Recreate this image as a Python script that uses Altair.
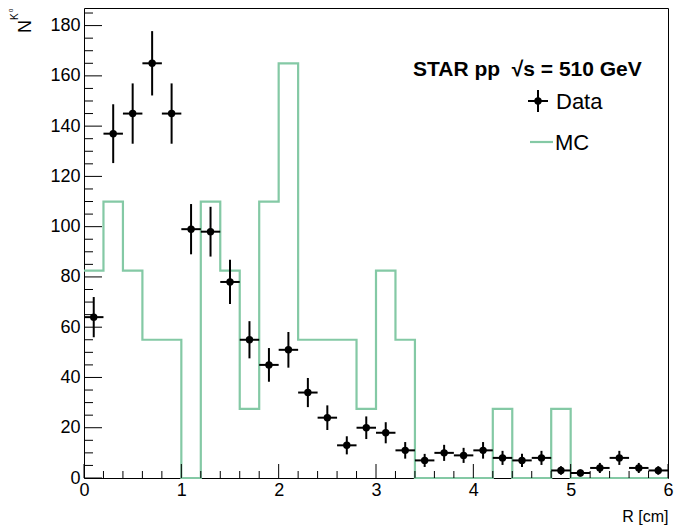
import altair as alt
import pandas as pd

# ---------------- data ----------------
bin_centers = [0.1, 0.3, 0.5, 0.7, 0.9, 1.1, 1.3, 1.5, 1.7, 1.9,
               2.1, 2.3, 2.5, 2.7, 2.9, 3.1, 3.3, 3.5, 3.7, 3.9,
               4.1, 4.3, 4.5, 4.7, 4.9, 5.1, 5.3, 5.5, 5.7, 5.9]
data_counts = [64, 137, 145, 165, 145, 99, 98, 78, 55, 45,
               51, 34, 24, 13, 20, 18, 11, 7, 10, 9,
               11, 8, 7, 8, 3, 2, 4, 8, 4, 3]
data_errors = [8.0, 11.7, 12.0, 12.8, 12.0, 10.0, 9.9, 8.8, 7.4, 6.7,
               7.1, 5.8, 4.9, 3.6, 4.5, 4.2, 3.3, 2.6, 3.2, 3.0,
               3.3, 2.8, 2.6, 2.8, 1.7, 1.4, 2.0, 2.8, 2.0, 1.7]
bin_half_width = 0.1

mc_edges = [0.0, 0.2, 0.4, 0.6, 0.8, 1.0, 1.2, 1.4, 1.6, 1.8,
            2.0, 2.2, 2.4, 2.6, 2.8, 3.0, 3.2, 3.4, 3.6, 3.8,
            4.0, 4.2, 4.4, 4.6, 4.8, 5.0, 5.2, 5.4, 5.6, 5.8, 6.0]
mc_values = [82.5, 110, 82.5, 55, 55, 0, 110, 82.5, 27.5, 110,
             165, 55, 55, 55, 27.5, 82.5, 55, 0, 0, 0,
             0, 27.5, 0, 0, 27.5, 0, 0, 0, 0, 0]

x_major_ticks = [0, 1, 2, 3, 4, 5, 6]
x_minor_ticks = [round(0.2 * i, 1) for i in range(31) if i % 5 != 0]
y_major_ticks = [0, 20, 40, 60, 80, 100, 120, 140, 160, 180]
y_minor_ticks = [5 * i for i in range(38) if i % 4 != 0]

X_DOMAIN = [0, 6]
Y_DOMAIN = [0, 187]
W, H = 584, 470
FONT = "Liberation Sans"
GREEN = "#84c9a5"

# ---------------- tables ----------------
df_data = pd.DataFrame({"R": bin_centers, "N": data_counts, "err": data_errors})
df_data["xlo"] = df_data["R"] - bin_half_width
df_data["xhi"] = df_data["R"] + bin_half_width
df_data["ylo"] = df_data["N"] - df_data["err"]
df_data["yhi"] = df_data["N"] + df_data["err"]

df_mc = pd.DataFrame({"edge": mc_edges, "v": mc_values + [mc_values[-1]]})

xs = alt.Scale(domain=X_DOMAIN, nice=False, zero=False)
ys = alt.Scale(domain=Y_DOMAIN, nice=False, zero=False)

x_axis = alt.Axis(values=x_major_ticks, format="d", ticks=False, domain=False, grid=False,
                  labelFont=FONT, labelFontSize=18, labelColor="black",
                  labelPadding=3, labelFlush=False,
                  title="R [cm]", titleFont=FONT, titleFontSize=16,
                  titleFontWeight="normal", titleColor="black",
                  titleAnchor="end", titleAlign="right", titleBaseline="alphabetic",
                  titleX=W, titleY=43)
y_axis = alt.Axis(values=y_major_ticks, format="d", ticks=False, domain=False, grid=False,
                  labelFont=FONT, labelFontSize=18, labelColor="black",
                  labelPadding=4, labelFlush=False, title=None)

mc = alt.Chart(df_mc).mark_line(interpolate="step-after", color=GREEN,
                                strokeWidth=2.2).encode(
    x=alt.X("edge:Q", scale=xs, axis=x_axis),
    y=alt.Y("v:Q", scale=ys, axis=y_axis),
)

hbar = alt.Chart(df_data).mark_rule(color="black", strokeWidth=2).encode(
    x=alt.X("xlo:Q", scale=xs), x2="xhi:Q", y=alt.Y("N:Q", scale=ys))
vbar = alt.Chart(df_data).mark_rule(color="black", strokeWidth=2).encode(
    x=alt.X("R:Q", scale=xs), y=alt.Y("ylo:Q", scale=ys), y2="yhi:Q")
pts = alt.Chart(df_data).mark_circle(color="black", size=55, opacity=1).encode(
    x=alt.X("R:Q", scale=xs), y=alt.Y("N:Q", scale=ys))

# inward ticks (ROOT style)
def xticks(vals, length):
    return alt.Chart(pd.DataFrame({"t": vals})).mark_rule(
        color="black", strokeWidth=1).encode(
        x=alt.X("t:Q", scale=xs), y=alt.value(H), y2=alt.value(H - length))

def yticks(vals, length):
    return alt.Chart(pd.DataFrame({"t": vals})).mark_rule(
        color="black", strokeWidth=1).encode(
        y=alt.Y("t:Q", scale=ys), x=alt.value(0), x2=alt.value(length))

ticks = [xticks(x_major_ticks, 14), xticks(x_minor_ticks, 7),
         yticks(y_major_ticks, 18), yticks(y_minor_ticks, 9)]

one = pd.DataFrame({"a": [0]})

def txt(s, x, y, size, weight="normal", align="left", baseline="middle", angle=0):
    kw = dict(text=s, font=FONT, fontSize=size, fontWeight=weight, align=align,
              baseline=baseline, color="black")
    if angle:
        kw["angle"] = angle
    return alt.Chart(one).mark_text(**kw).encode(x=alt.value(x), y=alt.value(y))

# legend
legend_title = txt("STAR pp\u00a0\u00a0\u221As = 510 GeV", 329, 62, 21, weight="bold")
leg_data_h = alt.Chart(one).mark_rule(color="black", strokeWidth=2).encode(
    x=alt.value(444), x2=alt.value(464), y=alt.value(93))
leg_data_v = alt.Chart(one).mark_rule(color="black", strokeWidth=2).encode(
    x=alt.value(454), y=alt.value(82), y2=alt.value(104))
leg_data_p = alt.Chart(one).mark_circle(color="black", size=55, opacity=1).encode(
    x=alt.value(454), y=alt.value(93))
leg_data_t = txt("Data", 472, 94, 22)
leg_mc_l = alt.Chart(one).mark_rule(color=GREEN, strokeWidth=2.2).encode(
    x=alt.value(446), x2=alt.value(469), y=alt.value(134))
leg_mc_t = txt("MC", 471, 135, 22)

# y-axis title N^{K^0}
ytitle_N = txt("N", -53, 25, 18, baseline="alphabetic", angle=270)
ytitle_K = txt("K", -66, 12, 10, baseline="alphabetic", angle=270)
ytitle_0 = txt("0", -71, 4, 6, baseline="alphabetic", angle=270)

chart = alt.layer(
    mc, hbar, vbar, pts, *ticks,
    legend_title, leg_data_h, leg_data_v, leg_data_p, leg_data_t, leg_mc_l, leg_mc_t,
    ytitle_N, ytitle_K, ytitle_0,
).properties(
    width=W, height=H,
    autosize=alt.AutoSizeParams(type="none"),
    padding={"left": 84, "top": 8, "right": 8, "bottom": 51},
    background="white",
).configure_view(stroke="black", strokeWidth=1)

chart.save("out.html", embed_options={"renderer": "svg", "actions": False})
